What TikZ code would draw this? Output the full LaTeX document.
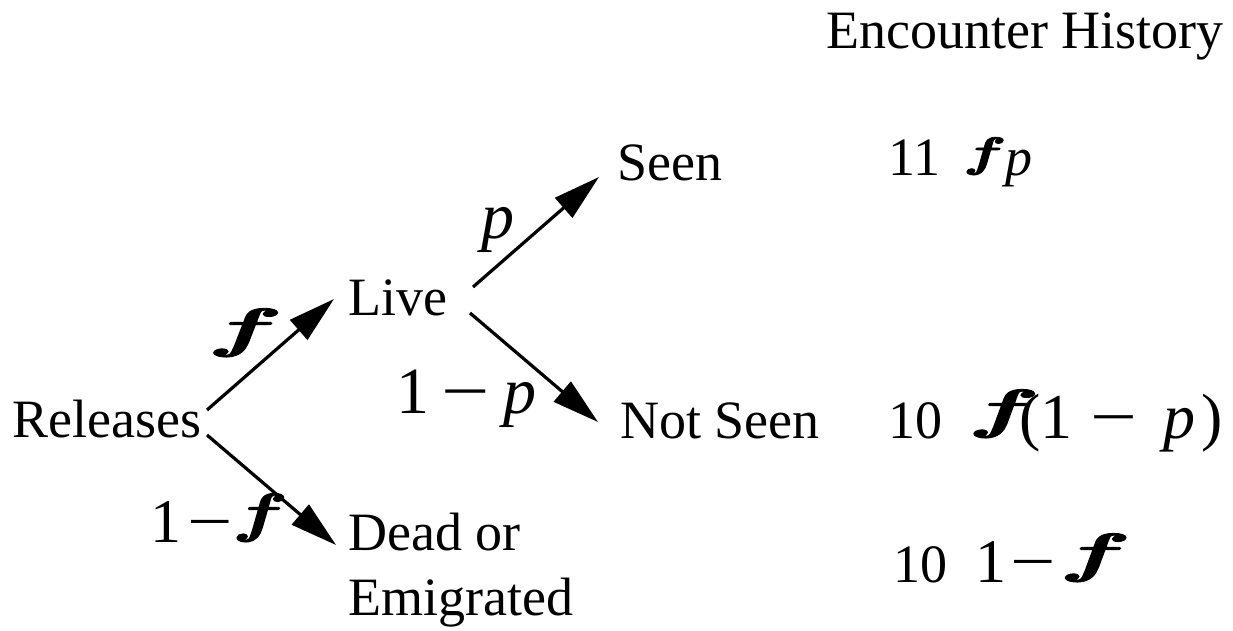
\documentclass[tikz,border=0pt]{standalone}
\usepackage{fontspec}
\setmainfont{Liberation Serif}
\newfontfamily\lmr[FakeBold=1.5]{Latin Modern Roman}
\usetikzlibrary{arrows.meta}
\newcommand{\fs}[1]{\fontsize{#1}{#1}\selectfont}
% bold italic f, size #1 (pt), horizontal stretch #2, sitting on the baseline
\newcommand{\bphi}[2]{{\lmr\fs{#1}\raisebox{0.2em}{\scalebox{#2}[1]{\bfseries\itshape f}}}}
\newcommand{\mns}{{\scalebox{1.3}[1]{−}}}
\begin{document}
\begin{tikzpicture}[x=1pt,y=-1pt,
  lbl/.style={anchor=base west,inner sep=0pt,font=\fs{54}},
  arr/.style={line width=3.2pt,-{Triangle[length=47pt,width=26pt]}}]
\useasboundingbox (0,0) rectangle (1233,630);
% texts
\node[lbl] (hdr) at (826,48) {Encounter History};
\node[lbl] (rel) at (12,437) {Releases};
\node[lbl] (live) at (348,315) {Live};
\node[lbl] (seen) at (617,180) {Seen};
\node[lbl] (nseen) at (620,438) {Not Seen};
\node[lbl] (dead) at (348,550) {Dead or};
\node[lbl] (emi) at (348,615) {Emigrated};
% branch labels
\node[lbl] (lf) at (216,357) {\bphi{54}{2.1}};
\node[lbl,font=\fs{66}] (lp) at (481,238) {\textit{p}};
\node[lbl,font=\fs{66}] (l1p) at (396,413) {1\kern12pt\mns\kern14pt\textit{p}};
\node[lbl,font=\fs{62}] (l1f) at (150,542) {1\kern6pt\mns\kern6pt\bphi{54}{1.55}};
% histories
\node[lbl] (h1) at (888,175) {11\kern28pt\bphi{42}{1.55}\kern11pt\textit{p}};
\node[lbl] (h2) at (888,438) {10\kern34pt{\fs{64}\bphi{54}{2.0}(1\kern18pt\mns\kern26pt\textit{p}\kern6pt)}};
\node[lbl] (h3) at (893,582) {10\kern28pt{\fs{62}1\kern4pt\mns\kern12pt\bphi{54}{2.0}}};
% connector ends
\coordinate (relUp) at (207,410);
\coordinate (relDn) at (207,435);
\coordinate (liveIn) at (334,299);
\coordinate (deadIn) at (336,545);
\coordinate (liveUp) at (473,287);
\coordinate (liveDn) at (470,313);
\coordinate (seenIn) at (599,177);
\coordinate (nseenIn) at (598,422);
\draw[arr] (relUp) -- (liveIn);
\draw[arr] (relDn) -- (deadIn);
\draw[arr] (liveUp) -- (seenIn);
\draw[arr] (liveDn) -- (nseenIn);
\end{tikzpicture}
\end{document}
